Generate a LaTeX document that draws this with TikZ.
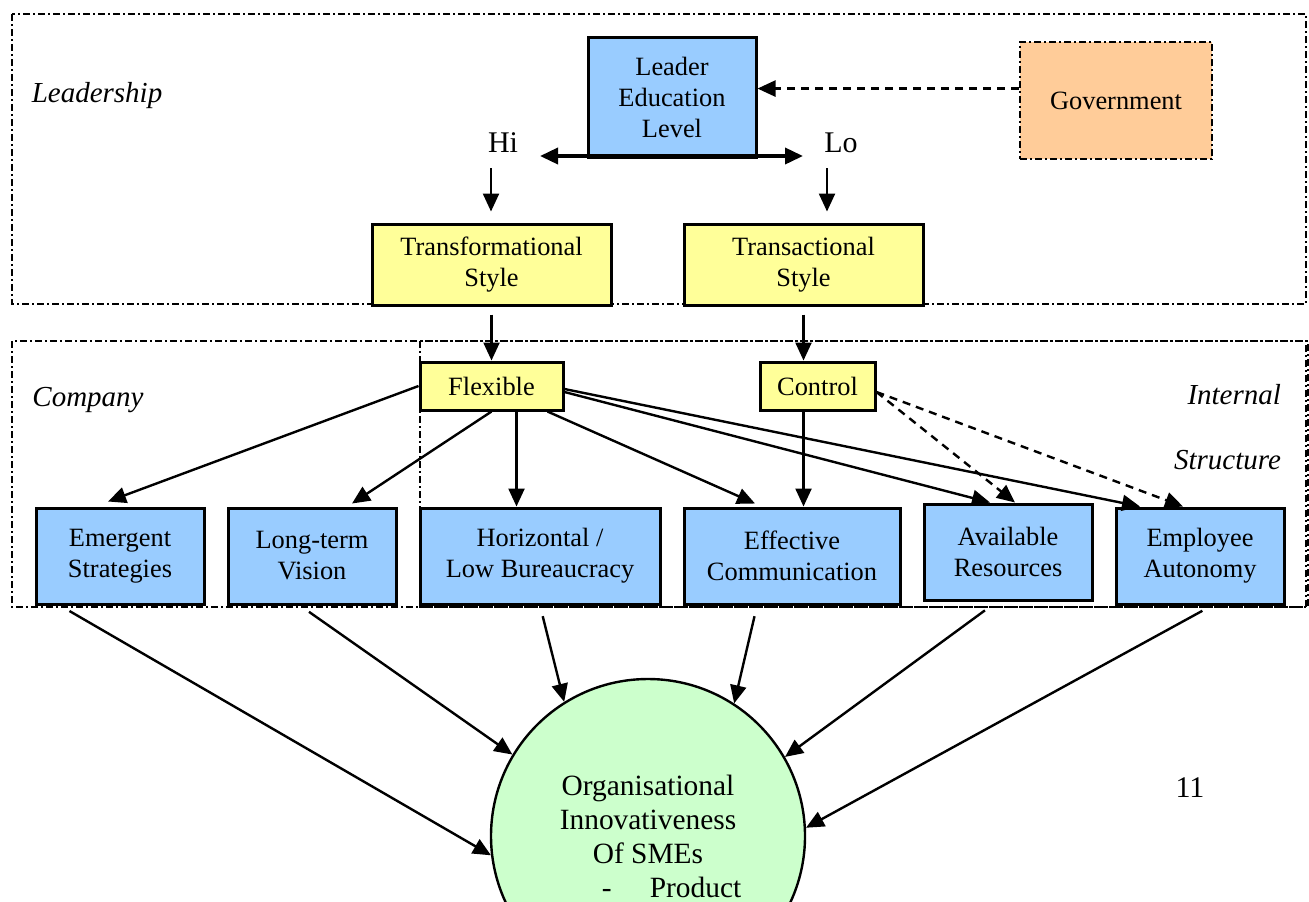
\documentclass[tikz,border=0pt]{standalone}
\usepackage{fontspec}
\setmainfont{Liberation Serif}
\usepackage{tikz}
\usetikzlibrary{arrows.meta,calc}
\usepackage{xcolor}
\definecolor{boxblue}{HTML}{99CCFF}
\definecolor{boxyellow}{HTML}{FFFF99}
\definecolor{boxpeach}{HTML}{FFCC99}
\definecolor{boxgreen}{HTML}{CCFFCC}

\begin{document}
\begin{tikzpicture}[x=0.5pt,y=-0.5pt,
  font=\fontsize{13.2}{15.5}\selectfont,
  box/.style={draw, line width=1.5pt, align=center, inner sep=0pt},
  bluebox/.style={box, fill=boxblue, minimum width=84pt, minimum height=48pt},
  yelbox/.style={box, fill=boxyellow, minimum width=119.5pt, minimum height=40.5pt},
  zoneline/.style={line width=1.3pt, dash pattern=on 3.5pt off 1.5pt on 1pt off 1.5pt},
  arr/.style={line width=1.2pt, -{Triangle[length=9pt,width=8pt]}},
  dasharr/.style={arr, dash pattern=on 4pt off 3pt},
  zonelabel/.style={font=\fontsize{14.5}{17}\selectfont\itshape}]
  \useasboundingbox (0,0) rectangle (1309,901);
  % zones
  \draw[zoneline] (12,14) rectangle (1306,304);
  \draw[zoneline] (12,341) rectangle (1306,607);
  \draw[zoneline] (420,341) rectangle (1308,607);
  \node[zonelabel] at (97,96) {Leadership};
  \node[zonelabel] at (88,400) {Company};
  \node[zonelabel, anchor=east] at (1288,395) {Internal};
  \node[zonelabel, anchor=east] at (1288,460) {Structure};
  % leadership level
  \node[box, fill=boxblue, minimum width=84pt, minimum height=60pt] (lel) at (672,97) {Leader\\Education\\Level};
  \node[box, fill=boxpeach, zoneline, minimum width=96pt, minimum height=58.5pt] (gov) at (1116,100.5) {Government};
  \draw[dasharr] (gov.173) -- (lel.east |- gov.173);
  \node[font=\fontsize{15}{17}\selectfont] (hi) at (503,143) {Hi};
  \node[font=\fontsize{15}{17}\selectfont] (lo) at (841,143) {Lo};
  \coordinate (hiend) at (540,156);
  \coordinate (loend) at (803,156);
  \draw[line width=1.8pt, {Triangle[length=9pt,width=8pt]}-{Triangle[length=9pt,width=8pt]}] (hiend) -- (loend);
  \node[yelbox] (trf) at (491.5,264.5) {Transformational\\Style};
  \node[yelbox] (trs) at (803.5,264.5) {Transactional\\Style};
  \draw[arr, shorten <=4pt, shorten >=5.5pt] ([xshift=-6pt]hi.south) -- ([xshift=-6pt]hi.south |- trf.north);
  \draw[arr, shorten <=4pt, shorten >=5.5pt] ([xshift=-7pt]lo.south) -- ([xshift=-7pt]lo.south |- trs.north);
  % company
  \node[box, fill=boxyellow, minimum width=71.5pt, minimum height=24pt] (flex) at (491.5,386) {Flexible};
  \node[box, fill=boxyellow, minimum width=57.5pt, minimum height=24pt] (ctrl) at (817.5,386) {Control};
  \draw[arr, shorten <=4pt] (trf.south) -- (trf.south |- flex.north);
  \draw[arr, shorten <=4pt] (trs.south) -- (trs.south |- ctrl.north);
  \node[bluebox] (emer) at (120,556) {Emergent\\Strategies};
  \node[bluebox] (vision) at (312,556) {Long-term\\Vision};
  \node[bluebox, minimum width=120pt] (horiz) at (540,556) {Horizontal /\\Low Bureaucracy};
  \node[bluebox, minimum width=108pt] (comm) at (792,556) {Effective\\Communication};
  \node[bluebox] (res) at (1008,552) {Available\\Resources};
  \node[bluebox] (auto) at (1200,556) {Employee\\Autonomy};
  \draw[arr] (flex.west) -- ([xshift=-6pt,yshift=2.5pt]emer.north);
  \draw[arr] (flex.south) -- ([xshift=20pt,yshift=1.5pt]vision.north);
  \draw[arr] ([xshift=12.5pt]flex.south) -- ([xshift=12.5pt]flex.south |- horiz.north);
  \draw[arr] ([xshift=28pt]flex.south) -- ([xshift=-18.5pt,yshift=1.5pt]comm.north);
  \draw[arr] ([yshift=-3pt]flex.east) -- ([xshift=-9pt]res.north);
  \draw[arr] ([yshift=-1.5pt]flex.east) -- ([xshift=-30pt]auto.north);
  \draw[arr] ([xshift=-7pt]ctrl.south) -- ([xshift=-7pt]ctrl.south |- comm.north);
  \draw[dasharr] ([yshift=-3pt]ctrl.east) -- ([xshift=3.5pt]res.north);
  \draw[dasharr] ([yshift=-3pt]ctrl.east) -- ([xshift=-8.5pt]auto.north);
  % outcome
  \node[circle, draw, line width=1.2pt, fill=boxgreen, minimum size=157pt, inner sep=0pt, align=center,
    font=\fontsize{14.7}{17}\selectfont] (innov) at (648,836)
    {Organisational\\Innovativeness\\Of SMEs\\\hspace*{1.6em}-\hspace{1.3em}Product};
  \draw[arr, shorten <=5.5pt] ([xshift=-30pt]emer.south) -- (innov.187);
  \draw[arr, shorten <=5.5pt] ([xshift=-6pt]vision.south) -- (innov.149);
  \draw[arr, shorten <=5.5pt] (horiz.south) -- (innov.122);
  \draw[arr, shorten <=5.5pt] ([xshift=-17.5pt]comm.south) -- (innov.57.5);
  \draw[arr, shorten <=7.5pt] ([xshift=-5.5pt]res.south) -- (innov.30);
  \draw[arr, shorten <=5.5pt] ([xshift=6pt]auto.south) -- (innov.3);
  \node[font=\fontsize{15}{17}\selectfont] (pagenum) at (1190,788) {11};
\end{tikzpicture}
\end{document}
